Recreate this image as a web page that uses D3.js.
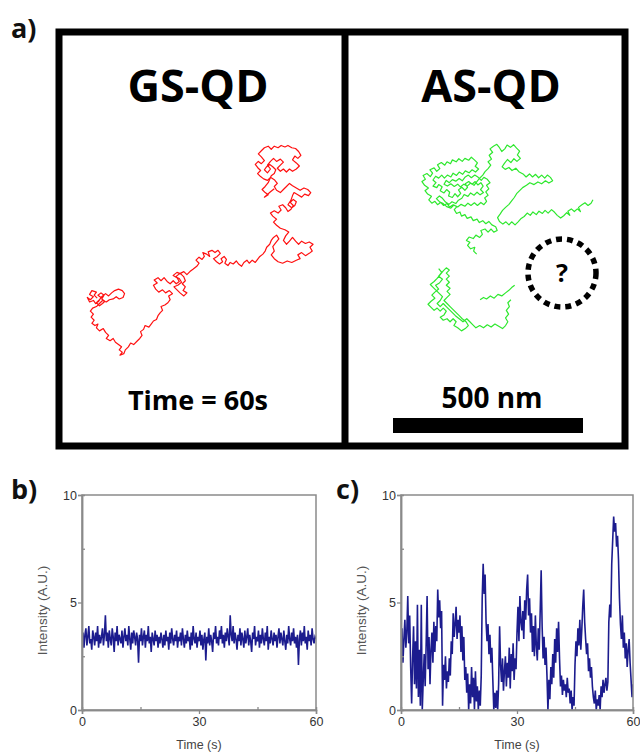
<!DOCTYPE html>
<html>
<head>
<meta charset="utf-8">
<script src="https://cdn.jsdelivr.net/npm/d3@7/dist/d3.min.js"></script>
<style>
  body { margin: 0; background: #fff; }
  svg { display: block; }
</style>
</head>
<body>
<div id="fig"></div>
<script>
// ---- data ----
// trajectories, in nm, from the top-left corner of each panel
const gsTrack = [
  [90,690],[82,682],[88,674],[76,670],[70,680],[80,686],[72,694],[64,688],[70,700],[80,696],
  [86,704],[94,698],[100,688],[92,682],[100,676],[108,682],[102,692],[110,698],[104,704],[96,710],
  [88,702],[96,694],[104,684],[112,678],[120,684],[128,676],[136,670],[146,666],[156,670],[162,678],
  [158,688],[148,692],[140,686],[132,692],[122,694],[114,700],[104,696],[96,704],[88,712],[78,716],
  [72,724],[80,732],[74,740],[82,748],[76,756],[84,762],[92,758],[88,768],[96,776],[106,770],
  [112,780],[120,788],[114,796],[124,802],[132,796],[138,806],[146,812],[154,818],[148,826],[156,832],
  [150,840],[160,836],[164,826],[172,818],[178,808],[186,812],[194,804],[202,796],[208,788],[204,778],
  [212,772],[216,762],[226,766],[232,758],[238,750],[246,746],[250,736],[256,728],[262,722],[258,712],
  [268,708],[276,702],[282,694],[278,684],[288,678],[280,670],[270,676],[262,668],[252,674],[244,666],
  [238,656],[248,650],[240,642],[250,636],[258,644],[266,636],[274,646],[282,652],[290,644],[298,652],
  [306,646],[300,636],[290,630],[300,622],[310,626],[318,634],[322,644],[314,652],[322,660],[316,670],
  [326,676],[318,684],[308,676],[300,668],[292,660],[302,656],[312,648],[306,638],[296,634],[306,626],
  [318,620],[326,628],[334,620],[342,614],[352,606],[358,598],[350,590],[358,582],[366,588],[372,580],
  [368,570],[378,574],[386,580],[382,568],[392,564],[400,570],[408,564],[414,572],[406,580],[396,586],
  [404,594],[412,600],[420,594],[416,586],[424,580],[430,588],[426,598],[434,604],[440,596],[448,600],
  [456,592],[462,600],[470,606],[476,596],[484,590],[490,598],[498,590],[506,596],[512,588],[518,580],
  [526,574],[532,566],[536,556],[544,548],[548,538],[554,530],[562,524],[568,534],[560,544],[552,554],
  [556,566],[548,576],[556,586],[566,594],[578,598],[590,592],[602,596],[614,590],[624,586],[618,576],
  [628,570],[638,578],[648,572],[656,566],[650,556],[658,548],[648,542],[638,546],[628,540],[620,548],
  [612,540],[604,530],[596,540],[588,548],[580,538],[586,526],[594,516],[584,510],[572,506],[562,498],
  [554,490],[562,482],[552,474],[546,466],[556,460],[566,466],[574,458],[568,448],[578,444],[586,452],
  [592,462],[600,456],[606,446],[598,438],[606,430],[614,436],[610,446],[602,452],[592,444],[600,432],
  [604,420],[608,412],[618,418],[628,424],[636,416],[646,420],[652,412],[644,404],[634,400],[624,406],
  [614,400],[604,394],[596,388],[588,396],[580,404],[572,412],[562,406],[556,396],[564,388],[556,378],
  [546,372],[538,380],[528,376],[520,370],[512,362],[520,354],[512,346],[506,338],[514,330],[522,336],
  [530,328],[522,318],[514,310],[522,302],[530,294],[540,290],[548,298],[556,290],[566,294],[574,288],
  [584,292],[592,288],[602,294],[612,296],[620,304],[626,314],[618,322],[610,316],[604,326],[614,334],
  [622,342],[614,350],[604,356],[596,350],[588,358],[580,350],[572,356],[564,348],[572,340],[580,332],
  [572,324],[562,330],[554,322],[546,330],[538,340],[546,350],[538,360],[530,352],[536,344],[544,338],
  [552,344],[560,352],[556,362],[548,368],[540,386],[532,396],[524,404],[532,412],[540,418],[530,424],
  [546,410],[556,402]
];

// null marks a gap where the dot was not seen
const asTrack = [
  [336,574],[328,566],[331,556],[320,560],[312,551],[318,543],[309,538],[316,529],[327,533],[334,524],
  [344,530],[351,522],[347,512],[358,508],[366,516],[374,508],[381,516],[390,512],[386,502],[376,497],
  [368,488],[360,494],[352,486],[343,491],[337,482],[327,486],[321,476],[311,480],[305,470],[296,474],
  [292,463],[283,467],[277,457],[284,449],[274,444],[265,450],[258,441],[249,446],[241,438],[233,444],
  [226,435],[218,440],[210,431],[217,422],[207,416],[200,407],[209,400],[199,393],[192,383],[201,377],
  [195,367],[205,362],[214,370],[220,361],[213,352],[224,347],[231,356],[239,349],[233,339],[243,333],
  [252,340],[258,331],[267,336],[272,326],[282,331],[289,323],[298,330],[305,322],[315,327],[322,319],
  [330,326],[338,334],[332,343],[341,350],[333,358],[324,352],[316,360],[306,355],[299,364],[290,358],
  [283,367],[274,361],[268,371],[259,366],[251,374],[244,366],[236,374],[228,369],[221,379],[229,386],
  [221,395],[231,399],[236,391],[245,397],[240,407],[250,413],[257,404],[265,411],[262,421],[272,425],
  [279,415],[286,423],[294,414],[288,405],[297,398],[305,406],[312,398],[306,389],[315,383],[324,390],
  [332,383],[339,392],[347,386],[353,395],[346,404],[354,412],[345,418],[337,411],[329,419],[320,413],
  [313,422],[303,417],[297,427],[288,432],[281,441],[271,436],[263,443],[254,437],[246,427],[238,421],
  [230,428],[238,436],[248,441],[257,449],[268,453],[276,445],[286,450],[295,443],[305,448],[313,440],
  [321,446],[330,439],[338,446],[347,438],[355,444],[362,435],[357,426],[366,419],[360,410],[368,402],
  [362,393],[371,386],[364,377],[355,372],[348,380],[340,372],[331,366],[322,373],[314,366],[305,372],
  [298,381],[290,375],[281,382],[272,378],[264,386],[256,380],[250,390],[259,395],[268,389],[277,396],
  [286,390],[293,397],[302,390],[311,395],[320,387],[329,393],[336,384],[343,375],[352,366],[358,357],
  [366,349],[373,340],[366,331],[375,324],[369,314],[378,306],[371,297],[380,290],[389,285],[396,294],
  [402,304],[410,297],[416,287],[425,293],[433,286],[441,295],[449,303],[443,313],[451,322],[442,330],
  [434,323],[426,333],[417,325],[409,335],[403,344],[411,351],[421,346],[429,354],[439,348],[447,357],
  [458,363],[466,371],[475,363],[483,371],[491,364],[499,373],[507,366],[515,374],[522,366],[530,372],
  [536,381],[526,387],[517,381],[507,389],[497,384],[487,391],[476,386],[467,393],[457,399],[449,407],
  [441,415],[435,425],[428,434],[421,443],[412,451],[404,459],[398,468],[391,478],[396,488],[405,495],
  [413,489],[421,497],[428,489],[437,497],[445,489],[452,481],[461,475],[469,466],[477,472],[484,463],
  [493,470],[500,461],[509,467],[516,459],[524,466],[533,457],[541,464],[548,472],[557,479],[565,473],
  [573,465],[581,472],[576,461],[585,455],[593,462],[601,455],[609,462],[604,451],[612,445],[621,439],
  [629,446],[637,440],[642,431],
  null,
  [236,612],[244,622],[236,632],[246,640],[238,650],[228,656],[236,666],[226,674],[218,682],[226,690],
  [216,698],[208,706],[216,714],[224,722],[232,716],[240,724],[248,716],[256,724],[250,734],[240,740],
  [248,748],[258,744],[266,752],[274,744],[282,752],[276,762],[286,768],[296,776],[306,770],[314,762],
  [308,752],[298,744],[290,736],[282,728],[274,720],[266,712],[258,704],[250,696],[258,688],[266,680],
  [258,672],[266,664],[256,656],[264,648],[256,640],[264,632],[256,624],[264,616],[256,610],[248,618],
  [240,628],[232,638],[224,646],[214,654],[222,662],[230,670],[238,678],[246,686],[240,696],[232,704],
  [240,712],[248,704],[256,712],[264,720],[272,728],[280,736],[290,744],[300,752],[310,744],[318,752],
  [326,760],[334,768],[344,762],[354,768],[364,760],[374,766],[384,758],[394,764],[404,770],[412,762],
  [418,752],[412,742],[420,732],[414,722],[422,712],[418,702],[426,694],
  null,
  [345,694],[354,688],[362,692],[372,684],[382,690],[392,680],[402,684],[412,676],[420,670],[428,662],
  [436,656]
];

// intensity traces, one value every 0.25 s from 0 to 60 s
const dt = 0.25;
const gsIntensity = [
  3.2,3.6,2.9,3.5,3.8,3.0,3.4,3.9,3.1,3.3,2.8,3.7,3.4,3.0,3.6,3.2,3.9,2.9,3.5,3.1,
  3.4,3.8,3.0,3.5,4.4,3.2,3.6,2.9,3.7,3.3,3.0,3.8,3.4,2.7,3.6,3.2,3.9,3.0,3.5,3.3,
  3.1,3.7,2.9,3.4,3.8,3.2,3.5,3.0,3.9,3.3,2.8,3.6,3.1,3.7,3.4,3.0,3.6,3.3,2.2,3.5,
  3.2,3.8,3.0,3.4,3.7,2.9,3.5,3.2,3.9,3.1,3.4,2.7,3.6,3.3,3.0,3.7,3.2,3.5,2.9,3.4,
  3.1,3.6,3.3,2.9,3.5,3.0,3.7,3.2,3.4,2.8,3.6,3.1,3.8,3.3,3.0,3.5,3.2,3.7,2.9,3.4,
  3.2,3.6,3.0,3.8,3.3,2.9,3.5,3.1,3.7,3.2,3.4,2.8,3.6,3.0,3.9,3.3,3.1,3.6,2.9,3.4,
  3.2,3.7,3.0,3.5,2.8,3.3,3.6,2.3,3.4,3.1,3.8,3.0,3.5,3.2,2.7,3.6,3.3,3.9,3.1,3.4,
  3.0,3.7,3.3,3.9,3.1,3.5,2.9,3.6,3.2,3.8,3.4,3.0,4.4,3.5,3.2,3.9,3.1,3.6,3.3,2.8,
  3.5,3.2,3.8,3.0,3.6,3.3,2.9,3.7,3.1,3.4,3.8,3.0,3.5,3.2,2.7,3.6,3.3,3.9,3.0,3.4,
  3.2,3.7,2.9,3.5,3.1,3.8,3.3,3.0,3.6,3.2,3.9,2.8,3.4,3.1,3.7,3.3,3.0,3.6,3.2,3.5,
  2.9,3.4,3.8,3.1,3.6,3.3,3.0,3.7,3.2,2.8,3.5,3.1,3.9,3.3,3.0,3.6,3.2,3.8,3.1,3.4,
  2.9,3.5,2.1,3.3,3.7,3.0,3.6,3.2,3.9,3.1,3.4,2.8,3.7,3.2,3.5,3.0,3.8,3.3,3.1,3.4,
  3.3
];
const asIntensity = [
  2.5,3.8,2.2,3.3,4.2,2.9,3.6,5.3,3.1,4.4,2.0,0.3,2.4,3.9,1.2,3.2,1.0,4.9,0.6,2.8,
  0.2,4.9,0.0,1.4,2.6,1.1,3.0,5.3,1.9,3.4,1.2,2.8,3.6,2.2,4.1,2.7,3.9,3.2,5.6,4.3,
  5.1,3.8,4.6,0.2,2.1,1.4,2.5,1.0,1.8,1.3,2.4,1.6,3.2,2.6,4.5,3.4,4.0,4.8,3.3,4.2,
  3.6,4.4,2.7,3.9,2.3,3.4,1.4,2.0,0.8,1.7,0.0,1.2,0.3,2.0,0.6,1.5,0.0,1.8,0.4,1.1,
  0.0,0.9,0.2,1.6,5.2,6.8,5.4,6.3,4.1,3.2,4.0,2.6,3.5,2.2,2.9,1.4,0.0,0.8,0.1,0.9,
  0.0,1.2,3.9,2.1,1.3,2.4,0.9,1.8,2.5,1.1,2.2,1.5,2.9,1.0,2.6,1.8,3.1,1.4,2.4,1.9,
  3.6,4.8,3.2,5.3,4.1,3.7,4.6,3.3,5.1,4.2,5.6,6.3,4.4,5.2,3.6,4.5,2.7,3.9,2.5,4.4,
  3.0,2.3,3.8,2.8,4.6,6.5,3.9,2.4,3.4,2.1,2.9,1.6,0.0,1.4,0.5,2.0,1.2,2.6,1.5,3.3,
  2.2,3.8,2.7,4.1,2.4,1.1,1.6,0.7,1.4,0.9,1.2,0.6,1.5,0.8,1.0,0.3,0.9,0.0,0.6,0.2,
  2.1,3.2,2.5,3.8,3.0,4.2,2.8,3.7,4.8,5.6,4.1,3.3,2.6,3.1,1.8,2.4,1.5,2.0,1.1,0.6,
  0.3,0.9,0.0,0.5,0.2,0.7,0.0,1.1,0.6,1.4,0.8,1.2,1.5,0.9,1.3,4.1,4.9,4.3,6.8,7.9,
  9.0,8.3,8.7,7.6,8.1,7.0,5.2,4.0,3.3,4.4,2.9,3.6,2.4,3.1,2.0,2.8,3.3,2.2,1.4,0.6,
  1.2
];

const timeTicks = [0, 30, 60];
const timeMinor = [15, 45];
const intensityTicks = [0, 5, 10];
const intensityMinor = [2.5, 7.5];
const scaleBarNm = 500;
const acqTime = 60;

// ---- drawing ----
const W = 640, H = 754;
const svg = d3.select("#fig").append("svg")
  .attr("width", W).attr("height", H)
  .style("font-family", "'Open Sans', sans-serif");

svg.append("rect").attr("width", W).attr("height", H).attr("fill", "#fff");

// nm -> px for the trajectory panels (500 nm = 190 px)
const nm = d3.scaleLinear().domain([0, scaleBarNm]).range([0, 190]);

function panelLabel(x, y, t) {
  svg.append("text").attr("x", x).attr("y", y)
    .attr("font-size", 27).attr("font-weight", 700).attr("fill", "#111")
    .text(t);
}

panelLabel(11, 38, "a)");
panelLabel(11, 499, "b)");
panelLabel(336, 499, "c)");

// frame of panel a
svg.append("rect")
  .attr("x", 59).attr("y", 32).attr("width", 566).attr("height", 414)
  .attr("fill", "none").attr("stroke", "#000").attr("stroke-width", 7);
svg.append("line")
  .attr("x1", 345).attr("x2", 345).attr("y1", 32).attr("y2", 446)
  .attr("stroke", "#000").attr("stroke-width", 7);

const trackLine = d3.line()
  .defined(d => d !== null)
  .x(d => nm(d[0]))
  .y(d => nm(d[1]));

const left = svg.append("g").attr("transform", "translate(63,36)");
const right = svg.append("g").attr("transform", "translate(349,36)");

left.append("path").datum(gsTrack)
  .attr("d", trackLine)
  .attr("fill", "none").attr("stroke", "#ff1010").attr("stroke-width", 1.2)
  .attr("stroke-linejoin", "round");

right.append("path").datum(asTrack)
  .attr("d", trackLine)
  .attr("fill", "none").attr("stroke", "#2ee82e").attr("stroke-width", 1.2)
  .attr("stroke-linejoin", "round");

svg.append("text").attr("x", 198).attr("y", 102)
  .attr("text-anchor", "middle").attr("font-size", 45).attr("font-weight", 700)
  .text("GS-QD");
svg.append("text").attr("x", 491).attr("y", 102)
  .attr("text-anchor", "middle").attr("font-size", 45).attr("font-weight", 700)
  .text("AS-QD");

svg.append("text").attr("x", 198).attr("y", 410)
  .attr("text-anchor", "middle").attr("font-size", 27).attr("font-weight", 700)
  .text("Time = " + acqTime + "s");
svg.append("text").attr("x", 492).attr("y", 408)
  .attr("text-anchor", "middle").attr("font-size", 28).attr("font-weight", 700)
  .text(scaleBarNm + " nm");

// scale bar
svg.append("rect")
  .attr("x", 393).attr("y", 418)
  .attr("width", nm(scaleBarNm) - nm(0)).attr("height", 15)
  .attr("fill", "#000");

// the dot that went missing
const q = right.append("g").attr("transform", "translate(213,237)");
q.append("circle").attr("r", 34)
  .attr("fill", "none").attr("stroke", "#000").attr("stroke-width", 5.5)
  .attr("stroke-dasharray", "6,5");
q.append("text").attr("y", 9).attr("text-anchor", "middle")
  .attr("font-size", 25).attr("font-weight", 700).text("?");

// intensity traces
function trace(x0, x1, values) {
  const y0 = 710, y1 = 495;
  const x = d3.scaleLinear().domain([0, acqTime]).range([x0, x1]);
  const y = d3.scaleLinear().domain([0, 10]).range([y0, y1]);
  const g = svg.append("g").style("font-family", "'Liberation Sans', Arial, sans-serif");
  const id = "clip" + x0;
  g.append("clipPath").attr("id", id).append("rect")
    .attr("x", x0).attr("y", y1).attr("width", x1 - x0).attr("height", y0 - y1);

  g.append("path").datum(values)
    .attr("clip-path", "url(#" + id + ")")
    .attr("d", d3.line().x((d, i) => x(i * dt)).y(d => y(d)))
    .attr("fill", "none").attr("stroke", "#1c1c8e").attr("stroke-width", 1.6);

  g.append("g").attr("transform", "translate(0," + y0 + ")")
    .call(d3.axisBottom(x).tickValues(timeTicks).tickSize(4).tickPadding(3));
  g.append("g").attr("transform", "translate(0," + y0 + ")")
    .call(d3.axisBottom(x).tickValues(timeMinor).tickSize(-3).tickFormat(""));
  g.append("g").attr("transform", "translate(" + x0 + ",0)")
    .call(d3.axisLeft(y).tickValues(intensityTicks).tickSize(4).tickPadding(1));
  g.append("g").attr("transform", "translate(" + x0 + ",0)")
    .call(d3.axisLeft(y).tickValues(intensityMinor).tickSize(-3).tickFormat(""));

  g.selectAll(".domain").attr("stroke", "#8a8a8a").attr("stroke-width", 1.5);
  g.selectAll(".tick line").attr("stroke", "#8a8a8a").attr("stroke-width", 1.3);
  g.selectAll(".tick text").attr("font-size", 12.5).attr("fill", "#333");

  g.append("rect").attr("x", x0).attr("y", y1)
    .attr("width", x1 - x0).attr("height", y0 - y1)
    .attr("fill", "none").attr("stroke", "#8a8a8a").attr("stroke-width", 1.5);

  g.append("text").attr("x", (x0 + x1) / 2).attr("y", 749)
    .attr("text-anchor", "middle").attr("font-size", 12.5).attr("fill", "#444")
    .text("Time (s)");
  g.append("text")
    .attr("transform", "translate(" + (x0 - 35) + "," + ((y0 + y1) / 2 + 8) + ") rotate(-90)")
    .attr("text-anchor", "middle").attr("font-size", 13.5).attr("fill", "#555")
    .text("Intensity (A.U.)");
}

trace(82, 316, gsIntensity);
trace(401, 633, asIntensity);
</script>
</body>
</html>
